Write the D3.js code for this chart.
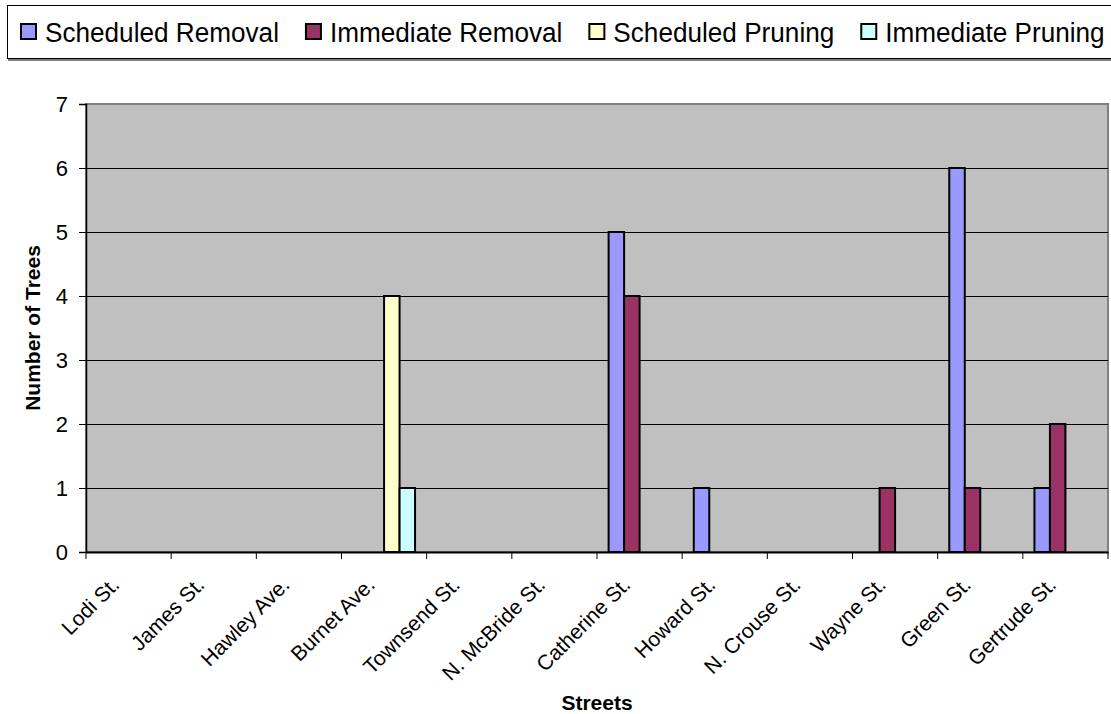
<!DOCTYPE html>
<html>
<head>
<meta charset="utf-8">
<script src="https://cdn.jsdelivr.net/npm/d3@7"></script>
<style>
    body { margin: 0; background: #fff; }
    text { font-family: "Liberation Sans", Arial, sans-serif; }
</style>
</head>
<body>
<div id="chart"></div>
<script>
var streets = ["Lodi St.", "James St.", "Hawley Ave.", "Burnet Ave.", "Townsend St.", "N. McBride St.",
    "Catherine St.", "Howard St.", "N. Crouse St.", "Wayne St.", "Green St.", "Gertrude St."];
var scheduledRemoval = [0, 0, 0, 0, 0, 0, 5, 1, 0, 0, 6, 1];
var immediateRemoval = [0, 0, 0, 0, 0, 0, 4, 0, 0, 1, 1, 2];
var scheduledPruning = [0, 0, 0, 4, 0, 0, 0, 0, 0, 0, 0, 0];
var immediatePruning = [0, 0, 0, 1, 0, 0, 0, 0, 0, 0, 0, 0];
var seriesNames = ["Scheduled Removal", "Immediate Removal", "Scheduled Pruning", "Immediate Pruning"];
var seriesColors = ["#9999FF", "#993366", "#FFFFCC", "#CCFFFF"];
var yTicks = [0, 1, 2, 3, 4, 5, 6, 7];

var width = 1111, height = 714;
var plot = { left: 86, right: 1108, top: 104, bottom: 552 };

var seriesValues = [scheduledRemoval, immediateRemoval, scheduledPruning, immediatePruning];

var svg = d3.select("#chart")
    .append("svg")
    .attr("width", width)
    .attr("height", height);

var x = d3.scaleBand()
    .domain(streets)
    .range([plot.left, plot.right])
    .paddingInner(0)
    .paddingOuter(0);

var x1 = d3.scaleBand()
    .domain(seriesNames)
    .range([0, x.bandwidth()])
    .paddingInner(0)
    .paddingOuter(0.75);

var y = d3.scaleLinear()
    .domain([0, 7])
    .range([plot.bottom, plot.top]);

// plot background
svg.append("rect")
    .attr("x", plot.left)
    .attr("y", plot.top)
    .attr("width", plot.right - plot.left)
    .attr("height", plot.bottom - plot.top)
    .attr("fill", "#C0C0C0")
    .attr("stroke", "#808080")
    .attr("stroke-width", 2);

// gridlines
svg.append("g")
    .selectAll("line")
    .data(yTicks.filter(function (d) { return d > 0 && d < 7; }))
    .enter()
    .append("line")
    .attr("x1", plot.left)
    .attr("x2", plot.right)
    .attr("y1", function (d) { return y(d) + 0.5; })
    .attr("y2", function (d) { return y(d) + 0.5; })
    .attr("stroke", "#000")
    .attr("stroke-width", 1);

// bars
var rows = [];
streets.forEach(function (s, i) {
    seriesNames.forEach(function (n, j) {
        rows.push({ street: s, series: n, value: seriesValues[j][i], color: seriesColors[j] });
    });
});

svg.append("g")
    .selectAll("rect")
    .data(rows.filter(function (d) { return d.value > 0; }))
    .enter()
    .append("rect")
    .attr("x", function (d) { return x(d.street) + x1(d.series); })
    .attr("y", function (d) { return y(d.value); })
    .attr("width", x1.bandwidth())
    .attr("height", function (d) { return y(0) - y(d.value); })
    .attr("fill", function (d) { return d.color; })
    .attr("stroke", "#000")
    .attr("stroke-width", 2);

// y axis
var yAxis = svg.append("g")
    .attr("transform", "translate(" + plot.left + ",0)")
    .call(d3.axisLeft(y).tickValues(yTicks).tickSize(7).tickPadding(11).tickFormat(d3.format("d")));
yAxis.select(".domain").attr("stroke", "#000").attr("stroke-width", 1.5);
yAxis.selectAll(".tick line").attr("stroke", "#000");
yAxis.selectAll("text")
    .attr("font-size", 22)
    .attr("fill", "#000")
    .style("font-family", "'Liberation Sans', Arial, sans-serif");

// x axis
var xAxis = svg.append("g")
    .attr("transform", "translate(0," + plot.bottom + ")")
    .call(d3.axisBottom(x).tickSize(0).tickFormat(""));
xAxis.select(".domain").attr("stroke", "#000").attr("stroke-width", 2);

var bounds = streets.map(function (s) { return x(s); }).concat([plot.right]);
xAxis.append("g")
    .selectAll("line")
    .data(bounds)
    .enter()
    .append("line")
    .attr("x1", function (d) { return d; })
    .attr("x2", function (d) { return d; })
    .attr("y1", 0)
    .attr("y2", 7)
    .attr("stroke", "#000");

svg.append("g")
    .selectAll("text")
    .data(streets)
    .enter()
    .append("text")
    .attr("transform", function (d) {
        return "translate(" + (x(d) + x.bandwidth() / 2 - 8) + "," + (plot.bottom + 34) + ") rotate(-45)";
    })
    .attr("text-anchor", "end")
    .attr("font-size", 21)
    .attr("fill", "#000")
    .text(function (d) { return d; });

// axis titles
svg.append("text")
    .attr("transform", "translate(40," + ((plot.top + plot.bottom) / 2) + ") rotate(-90)")
    .attr("text-anchor", "middle")
    .attr("font-size", 21)
    .attr("font-weight", "bold")
    .text("Number of Trees");

svg.append("text")
    .attr("x", (plot.left + plot.right) / 2)
    .attr("y", 710)
    .attr("text-anchor", "middle")
    .attr("font-size", 21)
    .attr("font-weight", "bold")
    .text("Streets");

// legend
svg.append("line")
    .attr("x1", 8).attr("x2", 1111)
    .attr("y1", 60).attr("y2", 60)
    .attr("stroke", "#808080")
    .attr("stroke-width", 2);
svg.append("rect")
    .attr("x", 7.5)
    .attr("y", 5.5)
    .attr("width", 1110)
    .attr("height", 53)
    .attr("fill", "#fff")
    .attr("stroke", "#000")
    .attr("stroke-width", 1);

var legend = svg.append("g");
var squeeze = 0.934;
var lx = 21;
seriesNames.forEach(function (n, j) {
    legend.append("rect")
        .attr("x", lx)
        .attr("y", 24)
        .attr("width", 15)
        .attr("height", 15)
        .attr("fill", seriesColors[j])
        .attr("stroke", "#000")
        .attr("stroke-width", 2);
    var t = legend.append("text")
        .attr("transform", "translate(" + (lx + 24) + ",42) scale(" + squeeze + ",1)")
        .attr("font-size", 28)
        .attr("fill", "#000")
        .text(n);
    lx = lx + 24 + t.node().getComputedTextLength() * squeeze + 27;
});
</script>
</body>
</html>
